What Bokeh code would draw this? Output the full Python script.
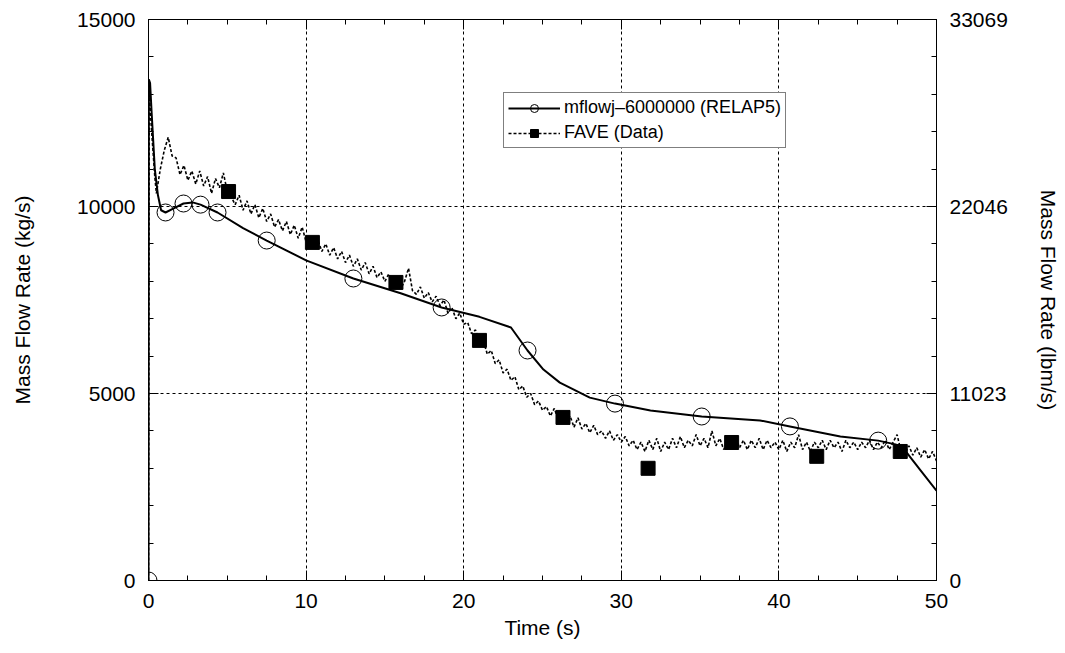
from bokeh.plotting import figure
from bokeh.models import (Range1d, LinearAxis, SingleIntervalTicker, FixedTicker,
                          NumeralTickFormatter, Legend, LegendItem)
from bokeh.embed import file_html
from bokeh.resources import INLINE

FONT = "Liberation Sans"

# ---------------- data ----------------
relap_t = [0.0, 0.02, 0.1, 0.2, 0.4, 0.6, 0.8, 1.08, 1.6, 2.22, 2.8, 3.3, 4.38, 6.0, 7.5,
           10.0, 13.0, 16.0, 18.6, 21.0, 23.0, 24.05, 25.06, 26.1, 28.0, 29.6, 31.85,
           35.1, 38.8, 40.7, 43.9, 46.3, 47.4, 48.0, 49.0, 50.0]
relap_v = [0, 13400, 13300, 12500, 11000, 10300, 9900, 9840, 9950, 10080, 10110, 10050, 9840,
           9420, 9090, 8560, 8075, 7680, 7300, 7050, 6765, 6150, 5640, 5290, 4890, 4730, 4545,
           4385, 4280, 4120, 3850, 3740, 3640, 3480, 2940, 2400]

relap_mark_t = [0.0, 1.08, 2.22, 3.3, 4.38, 7.5, 13.0, 18.6, 24.05, 29.6, 35.1, 40.7, 46.3]
relap_mark_v = [0, 9840, 10080, 10050, 9840, 9090, 8075, 7300, 6150, 4730, 4385, 4120, 3740]

fave_t = [0.0, 0.05, 0.2, 0.4,
          0.5, 0.75, 1.0, 1.25, 1.5, 1.75, 2.0, 2.25, 2.5, 2.75, 3.0, 3.25, 3.5, 3.75, 4.0, 4.25, 4.5, 4.75,
          5.0, 5.25, 5.5, 5.75, 6.0, 6.25, 6.5, 6.75, 7.0, 7.25, 7.5, 7.75, 8.0, 8.25, 8.5, 8.75, 9.0, 9.25, 9.5, 9.75,
          10.0, 10.25, 10.5, 10.75, 11.0, 11.25, 11.5, 11.75, 12.0, 12.25, 12.5, 12.75, 13.0, 13.25, 13.5, 13.75, 14.0, 14.25, 14.5, 14.75,
          15.0, 15.25, 15.5, 15.75, 16.0, 16.25, 16.5, 16.75, 17.0, 17.25, 17.5, 17.75, 18.0, 18.25, 18.5, 18.75, 19.0, 19.25, 19.5, 19.75,
          20.0, 20.25, 20.5, 20.75, 21.0, 21.25, 21.5, 21.75, 22.0, 22.25, 22.5, 22.75, 23.0, 23.25, 23.5, 23.75, 24.0, 24.25, 24.5, 24.75,
          25.0, 25.25, 25.5, 25.75, 26.0, 26.25, 26.5, 26.75, 27.0, 27.25, 27.5, 27.75, 28.0, 28.25, 28.5, 28.75, 29.0, 29.25, 29.5, 29.75,
          30.0, 30.25, 30.5, 30.75, 31.0, 31.25, 31.5, 31.75, 32.0, 32.25, 32.5, 32.75, 33.0, 33.25, 33.5, 33.75, 34.0, 34.25, 34.5, 34.75,
          35.0, 35.25, 35.5, 35.75, 36.0, 36.25, 36.5, 36.75, 37.0, 37.25, 37.5, 37.75, 38.0, 38.25, 38.5, 38.75, 39.0, 39.25, 39.5, 39.75,
          40.0, 40.25, 40.5, 40.75, 41.0, 41.25, 41.5, 41.75, 42.0, 42.25, 42.5, 42.75, 43.0, 43.25, 43.5, 43.75, 44.0, 44.25, 44.5, 44.75,
          45.0, 45.25, 45.5, 45.75, 46.0, 46.25, 46.5, 46.75, 47.0, 47.25, 47.5, 47.75, 48.0, 48.25, 48.5, 48.75, 49.0, 49.25, 49.5, 49.75, 50.0]
fave_v = [0, 13000, 12000, 10800,
          10350, 11000, 11500, 11850, 11350, 11300, 10850, 11100, 10700, 10950, 10600, 10950, 10550, 10800, 10350, 10750, 10500, 10900,
          10400, 10250, 10050, 10300, 9900, 10150, 9800, 10050, 9700, 9950, 9600, 9800, 9450, 9650, 9350, 9600, 9250, 9500, 9150, 9450,
          9050, 9150, 8900, 9100, 8800, 9000, 8700, 8900, 8600, 8800, 8500, 8700, 8400, 8600, 8300, 8500, 8200, 8400, 8100, 8250,
          8000, 8200, 7900, 8050, 7800, 8000, 8350, 7750, 7650, 7850, 7550, 7700, 7450, 7600, 7350, 7500, 7150, 7300, 7000, 7150,
          6850, 6900, 6600, 6700, 6350, 6400, 6050, 6150, 5800, 5900, 5550, 5650, 5350, 5450, 5100, 5200, 4900, 5000, 4700, 4800,
          4550, 4650, 4400, 4600, 4300, 4500, 4200, 4400, 4100, 4350, 4050, 4200, 3950, 4150, 3900, 4000, 3800, 4000, 3750, 3900,
          3700, 3850, 3600, 3750, 3500, 3700, 3450, 3750, 3500, 3800, 3450, 3700, 3500, 3800, 3550, 3850, 3550, 3750, 3600, 3900,
          3600, 3800, 3550, 4000, 3600, 3800, 3500, 3750, 3600, 3850, 3550, 3750, 3500, 3750, 3550, 3800, 3500, 3750, 3550, 3700,
          3500, 3750, 3450, 3700, 3550, 3900, 3500, 3700, 3450, 3700, 3550, 3750, 3500, 3750, 3550, 3700, 3450, 3750, 3550, 3700,
          3500, 3700, 3550, 3750, 3500, 3700, 3550, 3750, 3500, 3700, 3900, 3450, 3400, 3600, 3350, 3550, 3300, 3500, 3250, 3450, 3200]

fave_mark_t = [5.08, 10.4, 15.7, 21.0, 26.3, 31.7, 37.0, 42.4, 47.7]
fave_mark_v = [10400, 9040, 7970, 6420, 4360, 3000, 3690, 3320, 3450]

x_label = "Time (s)"
y_label = "Mass Flow Rate (kg/s)"
y2_label = "Mass Flow Rate (lbm/s)"
y2_ticks = [0, 11023, 22046, 33069]
relap_name = "mflowj\u20136000000 (RELAP5)"
fave_name = "FAVE (Data)"

# ---------------- figure ----------------
p = figure(width=1065, height=653, output_backend="svg", toolbar_location=None,
           x_range=Range1d(0, 50), y_range=Range1d(0, 15000),
           min_border_left=148, min_border_right=129, min_border_top=19, min_border_bottom=73,
           x_axis_label=x_label, y_axis_label=y_label)
p.background_fill_color = "white"
p.border_fill_color = "white"
p.outline_line_color = "black"
p.outline_line_width = 1

p.extra_y_ranges = {"lbm": Range1d(0, 33069)}

def style_axis(ax, labels=True):
    ax.axis_line_color = "black"
    ax.axis_line_width = 1
    ax.major_tick_in = 10
    ax.major_tick_out = 0
    ax.minor_tick_in = 5
    ax.minor_tick_out = 0
    ax.major_tick_line_color = "black"
    ax.minor_tick_line_color = "black"
    ax.major_label_text_font = FONT
    ax.major_label_text_color = "black"
    ax.axis_label_text_font = FONT
    ax.axis_label_text_font_style = "normal"
    ax.axis_label_text_font_size = "21px"
    ax.axis_label_text_color = "black"
    if labels:
        ax.major_label_text_font_size = "21px"
        ax.major_label_standoff = 13
    else:
        ax.major_label_text_font_size = "1px"
        ax.major_label_text_color = None
        ax.major_label_standoff = 0

xt = SingleIntervalTicker(interval=10, num_minor_ticks=4)
yt = SingleIntervalTicker(interval=5000, num_minor_ticks=5)

p.xaxis.ticker = xt
p.yaxis.ticker = yt
p.xaxis.formatter = NumeralTickFormatter(format="0")
p.yaxis.formatter = NumeralTickFormatter(format="0")
style_axis(p.xaxis[0])
style_axis(p.yaxis[0])
p.xaxis.axis_label_standoff = 5
p.yaxis.axis_label_standoff = 40

top = LinearAxis(ticker=SingleIntervalTicker(interval=10, num_minor_ticks=4))
style_axis(top, labels=False)
p.add_layout(top, "above")

minor2 = [v * 2204.6 for v in range(0, 16)]
right = LinearAxis(y_range_name="lbm", axis_label=y2_label,
                   ticker=FixedTicker(ticks=y2_ticks, minor_ticks=minor2),
                   formatter=NumeralTickFormatter(format="0"))
style_axis(right)
right.axis_label_standoff = 26
p.add_layout(right, "right")

p.xgrid.ticker = xt
p.ygrid.ticker = yt
for g in (p.xgrid[0], p.ygrid[0]):
    g.grid_line_color = "black"
    g.grid_line_dash = "3 3"
    g.grid_line_width = 1
    g.minor_grid_line_color = None

# ---------------- series ----------------
r_line = p.line(relap_t, relap_v, line_color="black", line_width=2)
r_mark = p.scatter(relap_mark_t, relap_mark_v, marker="circle", size=17,
                   fill_color=None, line_color="black", line_width=1)
f_line = p.line(fave_t, fave_v, line_color="black", line_width=1.6, line_dash="3 2")
f_mark = p.scatter(fave_mark_t, fave_mark_v, marker="square", size=14,
                   fill_color="black", line_color="black")

legend = Legend(items=[LegendItem(label=relap_name, renderers=[r_line, r_mark]),
                       LegendItem(label=fave_name, renderers=[f_line, f_mark])],
                location=(355, 432))
legend.label_text_font = FONT
legend.label_text_font_size = "18px"
legend.label_text_color = "black"
legend.border_line_color = "black"
legend.border_line_width = 1
legend.background_fill_color = "white"
legend.background_fill_alpha = 1
legend.glyph_width = 52
legend.glyph_height = 20
legend.label_standoff = 4
legend.spacing = 4
legend.padding = 4
legend.margin = 0
legend.label_height = 20
p.add_layout(legend, "center")

open("out.html", "w").write(file_html(p, INLINE))
